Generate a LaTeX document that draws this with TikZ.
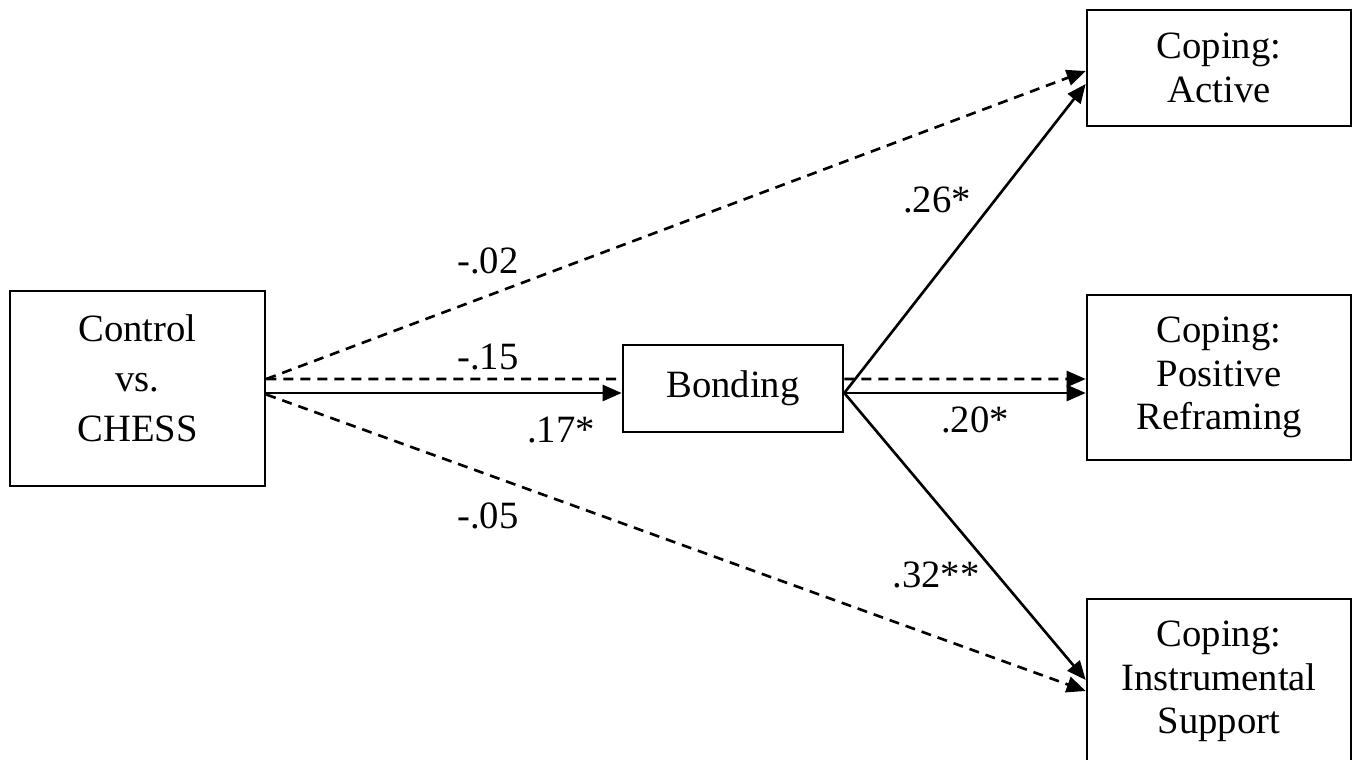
\documentclass[tikz,border=0pt]{standalone}
\usepackage{fontspec}
\setmainfont{Liberation Serif}
\usetikzlibrary{arrows.meta,calc}
\begin{document}
\begin{tikzpicture}[x=0.02cm, y=-0.02cm, font=\fontsize{22}{24.7}\selectfont,
  var/.style={draw, line width=1.5pt, inner sep=0pt, align=center},
  eff/.style={line width=1.5pt, -{Triangle[length=0.38cm, width=0.32cm]}},
  ns/.style={dash pattern=on 0.2cm off 0.14cm},
  coef/.style={inner sep=0pt}]
\useasboundingbox (0,0) rectangle (1360,760);
% variables
\node[var, minimum width=5.1cm, minimum height=3.9cm, font=\fontsize{22}{28.45}\selectfont, text depth=0.42cm] (ctrl) at (137.5,388.5) {Control\\vs.\\CHESS};
\node[var, minimum width=4.4cm, minimum height=1.74cm] (bond) at (733,388.5) {Bonding};
\node[var, minimum width=5.28cm, minimum height=2.32cm] (act) at (1219,68) {Coping:\\Active};
\node[var, minimum width=5.28cm, minimum height=3.3cm] (pos) at (1219,377.5) {Coping:\\Positive\\Reframing};
\node[var, minimum width=5.28cm, minimum height=3.3cm] (ins) at (1219,681.5) {Coping:\\Instrumental\\Support};
% direct paths
\draw[eff, ns] ($(ctrl.east)+(0,-9.5)$) -- ($(act.west)+(0,3)$);
\draw[eff, ns] ($(ctrl.east)+(0,-9.5)$) -- ($(bond.west)+(0,-9.5)$) ($(bond.east)+(0,-9.5)$) -- ($(pos.west)+(0,1.5)$);
\draw[eff, ns] ($(ctrl.east)+(0,6)$) -- ($(ins.west)+(0,9.5)$);
% mediated paths
\draw[eff] ($(ctrl.east)+(0,4.5)$) -- ($(bond.west)+(0,4.5)$);
\draw[eff] ($(bond.east)+(0,4.5)$) -- ($(act.west)+(0,16)$);
\draw[eff] ($(bond.east)+(0,4.5)$) -- ($(pos.west)+(0,15.5)$);
\draw[eff] ($(bond.east)+(0,4.5)$) -- ($(ins.west)+(0,-1.5)$);
% coefficients
\node[coef] (c02) at (488,261) {-.02};
\node[coef] (c15) at (488,357) {-.15};
\node[coef] (c17) at (561,430) {.17*};
\node[coef] (c05) at (488,516) {-.05};
\node[coef] (c26) at (937,200) {.26*};
\node[coef] (c20) at (975,420) {.20*};
\node[coef] (c32) at (936,575) {.32**};
\end{tikzpicture}
\end{document}
